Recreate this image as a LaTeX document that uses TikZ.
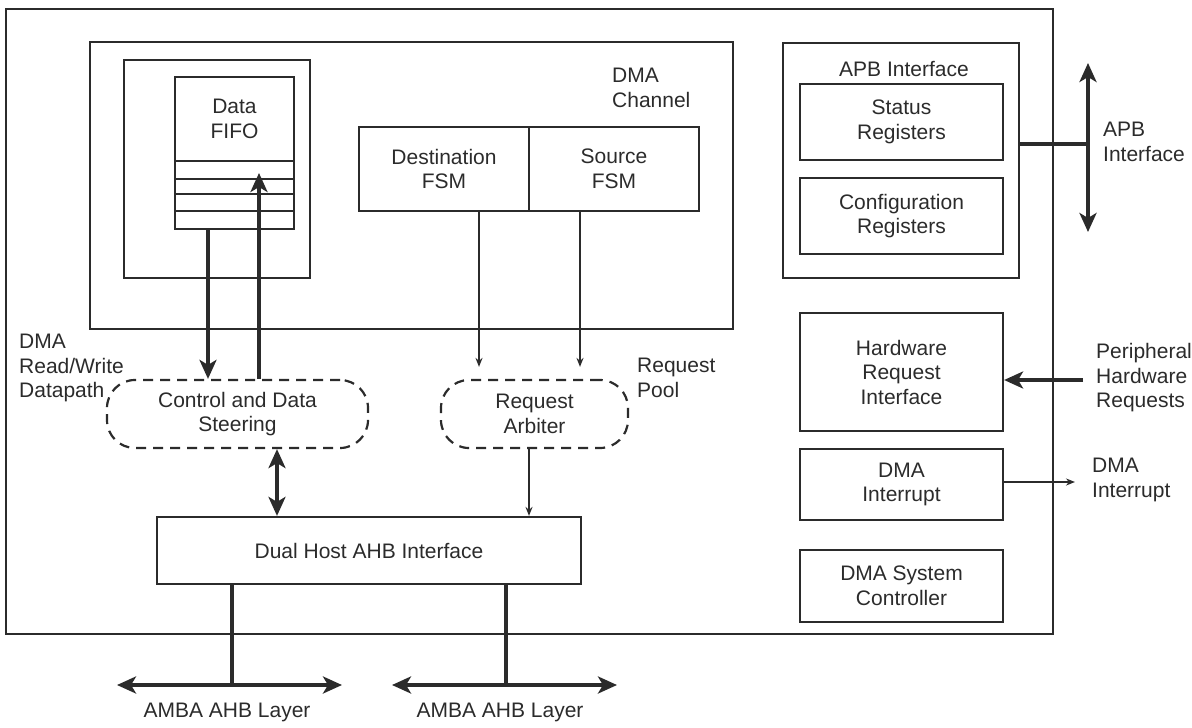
\documentclass[tikz,border=0pt]{standalone}
\usepackage{fontspec}
\setmainfont{Liberation Sans}
\usetikzlibrary{arrows.meta,calc,positioning}
\definecolor{Ink}{HTML}{2B2B2B}

\begin{document}
\begin{tikzpicture}[x=1pt,y=-1pt,font=\fontsize{21}{24.5}\selectfont,text=Ink,
    blk/.style={draw=Ink,line width=2.2pt,align=center,inner sep=0pt},
    frame/.style={draw=Ink,line width=1.8pt,inner sep=0pt},
    pool/.style={draw=Ink,line width=2.2pt,dash pattern=on 10pt off 7pt,
                 rounded corners=28pt,align=center,inner sep=0pt},
    lbl/.style={align=left,anchor=west,inner sep=0pt},
    bus/.style={Ink,line width=4.6pt},
    flow/.style={-{Stealth[length=19pt,width=17pt,inset=5pt]},Ink,line width=4.6pt},
    biflow/.style={{Stealth[length=19pt,width=17pt,inset=5pt]}-{Stealth[length=19pt,width=17pt,inset=5pt]},
                   Ink,line width=4.6pt},
    req/.style={-{Stealth[length=9pt,width=7pt]},Ink,line width=1.6pt}]
  \useasboundingbox (0,0) rectangle (1192,728);
  \node[frame,minimum width=1047pt,minimum height=625pt] (dmac) at (529.5,321.5) {};
  \node[frame,minimum width=643pt,minimum height=287pt] (chan) at (411.5,185.5) {};
  \node[frame,line width=1.3pt,minimum width=186pt,minimum height=218pt] (fifobay) at (217,169) {};
  \node[blk,minimum width=119pt,minimum height=152pt] (fifo) at (234.5,153) {};
  \node[align=center,inner sep=0pt] (fifotxt) at (234.5,119) {Data\\FIFO};
  \foreach \y in {161,179,194,211}
    \draw[Ink,line width=2.2pt] (fifo.west|-0,\y) -- (fifo.east|-0,\y);
  \node[lbl] (chanlbl) at (612,88) {DMA\\Channel};
  \node[blk,minimum width=170pt,minimum height=84pt] (dstfsm) at (444,169) {Destination\\FSM};
  \node[blk,minimum width=170pt,minimum height=84pt] (srcfsm) at (614,169) {Source\\FSM};
  \node[pool,minimum width=261pt,minimum height=68pt] (steer) at (237.5,414) {Control and Data\\Steering};
  \node[pool,minimum width=187pt,minimum height=68pt] (arb) at (534.5,414) {Request\\Arbiter};
  \node[blk,minimum width=424pt,minimum height=67pt] (ahb) at (369,550.5) {Dual Host AHB Interface};
  \node[lbl] (rwlbl) at (19,368) {DMA\\Read/Write\\Datapath};
  \node[lbl] (poollbl) at (637,378) {Request\\Pool};

  \node[frame,minimum width=236pt,minimum height=235pt] (apb) at (901,160.5) {};
  \node[inner sep=0pt] (apbtitle) at (904,69) {APB Interface};
  \node[blk,minimum width=203pt,minimum height=76pt] (stat) at (901.5,122) {Status\\Registers};
  \node[blk,minimum width=203pt,minimum height=76pt] (conf) at (901.5,216) {Configuration\\Registers};
  \node[blk,minimum width=203pt,minimum height=118pt] (hri) at (901.5,372) {Hardware\\Request\\Interface};
  \node[blk,minimum width=203pt,minimum height=71pt] (irq) at (901.5,484.5) {DMA\\Interrupt};
  \node[blk,minimum width=203pt,minimum height=72pt] (sysc) at (901.5,586) {DMA System\\Controller};
  \node[lbl] (apblbl) at (1103,142) {APB\\Interface};
  \node[lbl] (perlbl) at (1096,378) {Peripheral\\Hardware\\Requests};
  \node[lbl] (irqlbl) at (1092,480) {DMA\\Interrupt};
  \node[inner sep=0pt] (ahblbla) at (227,712) {AMBA AHB Layer};
  \node[inner sep=0pt] (ahblblb) at (500,712) {AMBA AHB Layer};

  \coordinate (fifoin) at (259,173);
  \coordinate (apbtap) at (1088,144);
  \coordinate (apbup) at (1088,63);
  \coordinate (apbdn) at (1088,232);
  \coordinate (perin) at (1083,380);
  \coordinate (irqout) at (1075,482);
  \coordinate (ahbtapa) at (232,685);
  \coordinate (ahbla) at (117,685);
  \coordinate (ahbra) at (342,685);
  \coordinate (ahbtapb) at (506,685);
  \coordinate (ahblb) at (392,685);
  \coordinate (ahbrb) at (617,685);

  \draw[flow] (fifo.south-|208,0) -- (steer.north-|208,0);
  \draw[flow] (steer.north-|fifoin) -- (fifoin);
  \draw[req,shorten >=12pt] (dstfsm.south-|479,0) -- (arb.north-|479,0);
  \draw[req,shorten >=12pt] (srcfsm.south-|580,0) -- (arb.north-|580,0);
  \draw[req] (arb.south-|529,0) -- (ahb.north-|529,0);
  \draw[biflow] (steer.south-|277,0) -- (ahb.north-|277,0);
  \draw[bus] (apb.east|-apbtap) -- (apbtap);
  \draw[biflow] (apbup) -- (apbdn);
  \draw[flow] (perin) -- (perin-|hri.east);
  \draw[req] (irq.east|-irqout) -- (irqout);
  \draw[bus] (ahb.south-|ahbtapa) -- (ahbtapa);
  \draw[biflow] (ahbla) -- (ahbra);
  \draw[bus] (ahb.south-|ahbtapb) -- (ahbtapb);
  \draw[biflow] (ahblb) -- (ahbrb);
\end{tikzpicture}
\end{document}
